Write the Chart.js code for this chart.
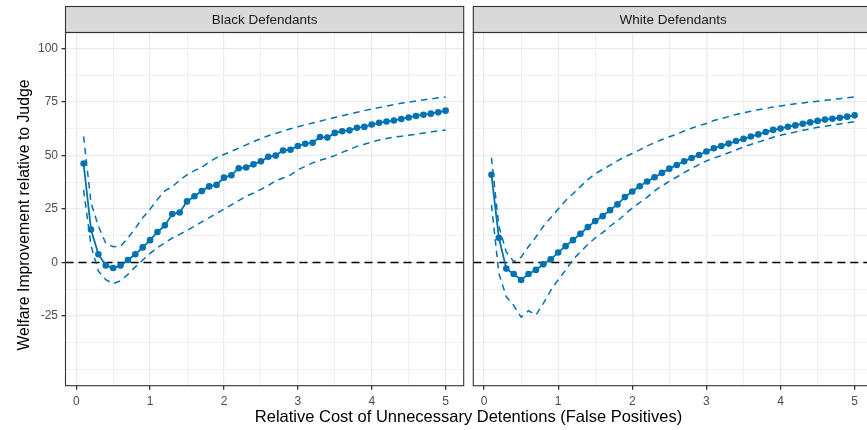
<!DOCTYPE html>
<html><head><meta charset="utf-8">
<script src="https://cdn.jsdelivr.net/npm/chart.js@4.4.1/dist/chart.umd.min.js"></script>
<style>
html,body{margin:0;padding:0;background:#fff;overflow:hidden;width:867px;height:430px}
#wrap{position:relative;width:867px;height:430px;overflow:hidden}
canvas{position:absolute;top:0}
#cL{left:0}
#cR{left:467px}
.t{position:absolute;font-family:"Liberation Sans",Arial,Helvetica,sans-serif;color:#000;white-space:nowrap;font-size:16.5px;font-weight:normal;text-align:center}
#xt{left:0;width:937px;top:406px;height:20px;line-height:20px}
#yt{left:-176px;width:400px;top:205px;height:20px;line-height:20px;font-size:15.8px;transform:rotate(-90deg);transform-origin:50% 50%}
</style>
</head><body>
<div id="wrap">
<canvas id="cL" width="467" height="430"></canvas>
<canvas id="cR" width="410" height="430"></canvas>
<div class="t" id="xt">Relative Cost of Unnecessary Detentions (False Positives)</div>
<div class="t" id="yt">Welfare Improvement relative to Judge</div>
</div>
<script>
// ---- data ----
const panelLabels = ['Black Defendants', 'White Defendants'];
const costRatio = [0.1,0.2,0.3,0.4,0.5,0.6,0.7,0.8,0.9,1.0,
  1.1,1.2,1.3,1.4,1.5,1.6,1.7,1.8,1.9,2.0,
  2.1,2.2,2.3,2.4,2.5,2.6,2.7,2.8,2.9,3.0,
  3.1,3.2,3.3,3.4,3.5,3.6,3.7,3.8,3.9,4.0,
  4.1,4.2,4.3,4.4,4.5,4.6,4.7,4.8,4.9,5.0];

const blackEst = [46.3,15.5,3.9,-1.3,-2.5,-1.4,1.2,3.9,7.1,10.5,
  14.3,17.4,22.7,23.4,28.6,31.0,33.4,35.6,36.3,39.7,
  40.8,44.1,44.4,45.9,47.3,49.4,50.0,52.4,52.7,54.5,
  55.5,56.0,58.7,58.4,60.6,61.4,61.8,63.0,63.4,64.5,
  65.3,65.9,66.4,67.1,67.8,68.5,69.1,69.6,70.2,71.0];
const blackLower = [34,8,-4,-8,-9.8,-8.5,-5.5,-2,1.2,4.3,
  7,9.3,11.5,13.2,15,17,19,21,23,25,
  27,29,31,32.5,34.2,36,38.3,39.5,41,43.3,
  45,46.6,47.8,48.8,50,51.5,52.8,54.3,55.3,56.3,
  57.3,58,58.6,59,59.5,60,60.5,61,61.5,62];
const blackUpper = [59,28,17,9,7.4,7.6,11.5,16,21,25,
  29.5,33.5,35.5,38.5,41,43,44.5,47,49,50.5,
  52,53.5,55,56.5,58,59.3,60.3,61.5,62.5,63.5,
  64.3,65.2,66,67,67.8,68.6,69.4,70.2,71,71.7,
  72.4,73.1,73.8,74.4,75,75.5,76,76.5,77,77.4];

const whiteEst = [41.0,11.6,-2.8,-5.3,-8.1,-5.3,-3.4,-0.8,1.5,4.7,
  7.7,10.5,13.5,16.6,19.4,21.7,24.5,27.2,30.6,33.2,
  35.7,37.9,39.9,41.9,43.9,45.6,47.3,48.9,50.3,51.9,
  53.4,54.5,55.6,56.8,57.8,58.9,59.9,61.0,62.0,62.6,
  63.5,64.1,64.9,65.5,66.2,66.8,67.2,67.7,68.2,68.8];
const whiteLower = [27,-5,-16,-20,-25.5,-22.5,-24.5,-19,-13,-8,
  -3.5,1.5,5,8.5,11.5,14,17,19.5,22.5,25.5,
  28,30.5,33.5,35.8,38,40,42,44,45.8,47.5,
  48.8,50,51.3,52.6,54,55.2,56.3,57.4,58.6,59.5,
  60.3,61,61.8,62.5,63.2,63.7,64.3,64.8,65.3,65.8];
const whiteUpper = [49,17,5,0.5,2.5,7.5,12,17,21,25,
  29,32.2,35.5,38.8,41.5,43.5,45.5,47.5,49.5,51,
  52.7,54.5,56,57.5,58.8,60,61.5,62.8,64,65,
  66.4,67.3,68.2,69.2,70,70.7,71.4,72,72.7,73.2,
  73.7,74.2,74.6,75,75.4,75.8,76.2,76.6,77,77.4];

const yMajorTicks = [-25, 0, 25, 50, 75, 100];
const yMinorTicks = [-50, -37.5, -12.5, 12.5, 37.5, 62.5, 87.5];
const xMajorTicks = [0, 1, 2, 3, 4, 5];
const xMinorTicks = [0.5, 1.5, 2.5, 3.5, 4.5];
const referenceLine = 0;

// ---- styling ----
const BLUE = '#0072B2';
const FONT = '"Liberation Sans", Arial, Helvetica, sans-serif';
const X_MIN = -0.145, X_MAX = 5.245, Y_MIN = -57.5, Y_MAX = 107.5;

function pts(ys) { return costRatio.map((x, i) => ({x: x, y: ys[i]})); }

const panelPlugin = {
  id: 'panel',
  beforeDatasetsDraw(chart) {
    const {ctx, chartArea: a, scales} = chart;
    const y = scales.y.getPixelForValue(referenceLine);
    ctx.save();
    ctx.strokeStyle = '#000';
    ctx.lineWidth = 1.5;
    ctx.setLineDash([8, 5]);
    ctx.beginPath();
    ctx.moveTo(a.left, y); ctx.lineTo(a.right, y);
    ctx.stroke();
    ctx.restore();
  },
  afterDraw(chart, args, opts) {
    const {ctx, chartArea: a} = chart;
    const top = 6.5;
    ctx.save();
    ctx.fillStyle = '#D9D9D9';
    ctx.fillRect(a.left, top, a.right - a.left, a.top - top);
    ctx.strokeStyle = '#333333';
    ctx.lineWidth = 1.1;
    ctx.strokeRect(a.left, top, a.right - a.left, a.top - top);
    ctx.strokeRect(a.left, a.top, a.right - a.left, a.bottom - a.top);
    ctx.fillStyle = '#1A1A1A';
    ctx.font = '13.5px ' + FONT;
    ctx.textAlign = 'center';
    ctx.textBaseline = 'middle';
    ctx.fillText(opts.label, (a.left + a.right) / 2, (top + a.top) / 2 + 0.5);
    ctx.restore();
  }
};

function makeChart(id, label, est, lower, upper, showY, yWidth) {
  const dashed = (data) => ({
    data: pts(data), borderColor: BLUE, borderWidth: 1.5, borderDash: [6.5, 5],
    pointRadius: 0, fill: false, tension: 0
  });
  return new Chart(document.getElementById(id), {
    type: 'line',
    data: {
      datasets: [
        dashed(lower),
        dashed(upper),
        {data: pts(est), borderColor: BLUE, borderWidth: 1.8, pointRadius: 3.3,
         pointBackgroundColor: BLUE, pointBorderWidth: 0, pointHoverRadius: 3.3, fill: false, tension: 0}
      ]
    },
    options: {
      responsive: false, animation: false, devicePixelRatio: 1,
      layout: {padding: {top: 32.5, right: showY ? 2.5 : 4.2, bottom: 0, left: 0}},
      plugins: {legend: {display: false}, tooltip: {enabled: false}, panel: {label: label}},
      scales: {
        x: {
          type: 'linear', min: X_MIN, max: X_MAX,
          afterBuildTicks: (s) => { s.ticks = xMajorTicks.concat(xMinorTicks).sort((a, b) => a - b).map(v => ({value: v})); },
          afterFit: (s) => { s.height = 44.3; },
          border: {display: false},
          grid: {
            color: (c) => (c.tick && xMajorTicks.includes(c.tick.value)) ? '#EBEBEB' : '#F0F0F0',
            lineWidth: (c) => (c.tick && xMajorTicks.includes(c.tick.value)) ? 1.3 : 1,
            tickColor: (c) => (c.tick && xMajorTicks.includes(c.tick.value)) ? '#333333' : 'rgba(0,0,0,0)',
            tickLength: 4, drawTicks: true
          },
          ticks: {
            autoSkip: false, maxRotation: 0, padding: 4.5, color: '#4D4D4D',
            font: {family: FONT, size: 12},
            callback: (v) => xMajorTicks.includes(v) ? String(v) : ''
          }
        },
        y: {
          type: 'linear', min: Y_MIN, max: Y_MAX,
          afterBuildTicks: (s) => { s.ticks = yMajorTicks.concat(yMinorTicks).sort((a, b) => a - b).map(v => ({value: v})); },
          afterFit: (s) => { s.width = yWidth; },
          border: {display: false},
          grid: {
            color: (c) => (c.tick && yMajorTicks.includes(c.tick.value)) ? '#EBEBEB' : '#F0F0F0',
            lineWidth: (c) => (c.tick && yMajorTicks.includes(c.tick.value)) ? 1.3 : 1,
            tickColor: (c) => (showY && c.tick && yMajorTicks.includes(c.tick.value)) ? '#333333' : 'rgba(0,0,0,0)',
            tickLength: showY ? 4 : 0, drawTicks: showY
          },
          ticks: {
            display: showY, autoSkip: false, padding: 3.5, color: '#4D4D4D',
            font: {family: FONT, size: 12},
            callback: (v) => yMajorTicks.includes(v) ? String(v) : ''
          }
        }
      }
    },
    plugins: [panelPlugin]
  });
}

makeChart('cL', panelLabels[0], blackEst, blackLower, blackUpper, true, 65.5);
makeChart('cR', panelLabels[1], whiteEst, whiteLower, whiteUpper, false, 6.3);
</script>
</body></html>
